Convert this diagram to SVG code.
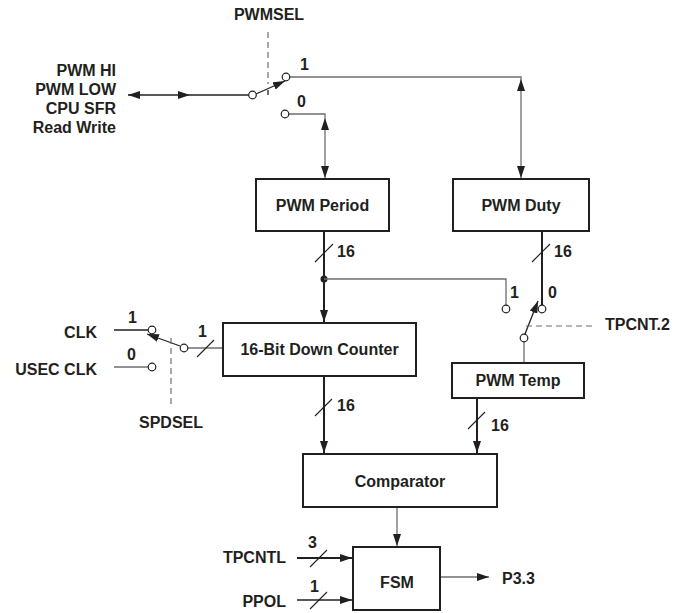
<svg xmlns="http://www.w3.org/2000/svg" width="674" height="613" viewBox="0 0 674 613">
<defs>
<marker id="ah" viewBox="0 0 12 8" refX="12" refY="4" markerWidth="12" markerHeight="8" markerUnits="userSpaceOnUse" orient="auto-start-reverse">
<path d="M0,0 L12,4 L0,8 Z" fill="#231f20"/>
</marker>
</defs>
<style>
text{font-family:"Liberation Sans",Arial,sans-serif;font-weight:bold;font-size:16px;fill:#231f20}
.m{text-anchor:middle}
.e{text-anchor:end}
.box{fill:#fff;stroke:#231f20;stroke-width:2}
.thin{fill:none;stroke:#6d6e71;stroke-width:1.3}
.dk{fill:none;stroke:#231f20;stroke-width:1.3}
.bus{fill:none;stroke:#231f20;stroke-width:2}
.sl{fill:none;stroke:#231f20;stroke-width:1.1}
.dash{fill:none;stroke:#6d6e71;stroke-width:1.2;stroke-dasharray:6,4}
.c{fill:#fff;stroke:#231f20;stroke-width:1.2}
.arr{marker-end:url(#ah)}
</style>

<g id="connectors">
<!-- PWMSEL switch -->
<path class="dk" d="M128,95 L190,95" marker-start="url(#ah)" marker-end="url(#ah)"/>
<path class="dk" d="M190,95 L249,95"/>
<path class="dash" d="M268,32 V84"/>
<path class="dk" d="M256,94 L285,81" marker-end="url(#ah)"/>
<path class="dk" d="M268,90 V95"/>
<path class="thin" d="M290,77 H521 V79"/>
<path class="thin" d="M521,79 V178" marker-start="url(#ah)" marker-end="url(#ah)"/>
<path class="thin" d="M289,114 H325 V118"/>
<path class="thin" d="M325,118 V178" marker-start="url(#ah)" marker-end="url(#ah)"/>

<!-- PWM Period to counter -->
<path class="bus" d="M324,231 V322" marker-end="url(#ah)"/>
<path class="sl" d="M315,262 L333,244"/>
<circle cx="324" cy="279" r="3.5" fill="#231f20"/>
<path class="thin" d="M324,279 H506 V305"/>

<!-- PWM Duty out -->
<path class="bus" d="M542,231 V305"/>
<path class="sl" d="M532,262 L550,244"/>

<!-- TPCNT.2 switch -->
<path class="dk" d="M525,334 L538,301" marker-end="url(#ah)"/>
<path class="dash" d="M526,326 H594"/>
<path class="thin" d="M524,342 V363"/>

<!-- CLK switch -->
<path class="dk" d="M114,330 H148"/>
<path class="thin" d="M114,367 H148"/>
<path class="dk" d="M180,346 L147,334" marker-end="url(#ah)"/>
<path class="dash" d="M171,338 V408"/>
<path class="thin" d="M188,348 H223"/>
<path class="sl" d="M197,357 L214,340"/>

<!-- Counter to comparator -->
<path class="bus" d="M324,376 V453" marker-end="url(#ah)"/>
<path class="sl" d="M315,416 L332,399"/>

<!-- PWM Temp to comparator -->
<path class="bus" d="M477,398 V453" marker-end="url(#ah)"/>
<path class="sl" d="M468,429 L485,412"/>

<!-- Comparator to FSM -->
<path class="thin" d="M397,507 V546" marker-end="url(#ah)"/>

<!-- FSM inputs -->
<path class="bus" d="M297,558 H352" marker-end="url(#ah)"/>
<path class="sl" d="M310,567 L327,550"/>
<path class="dk" d="M297,600 H352" marker-end="url(#ah)"/>
<path class="sl" d="M310,609 L327,592"/>

<!-- FSM output -->
<path class="thin" d="M440,577 H489" marker-end="url(#ah)"/>
</g>

<g id="contacts">
<circle class="c" cx="252.5" cy="95" r="3.8"/>
<circle class="c" cx="286" cy="77" r="3.8"/>
<circle class="c" cx="285" cy="114" r="3.8"/>
<circle class="c" cx="506" cy="309" r="3.8"/>
<circle class="c" cx="542" cy="309" r="3.8"/>
<circle class="c" cx="524" cy="338" r="3.8"/>
<circle class="c" cx="152" cy="330" r="3.8"/>
<circle class="c" cx="152" cy="367" r="3.8"/>
<circle class="c" cx="184" cy="348" r="3.8"/>
</g>

<g id="pwm-period">
<rect class="box" x="256" y="179" width="133" height="52"/>
<text class="m" x="322.5" y="211">PWM Period</text>
</g>
<g id="pwm-duty">
<rect class="box" x="453" y="179" width="136" height="52"/>
<text class="m" x="521" y="211">PWM Duty</text>
</g>
<g id="down-counter">
<rect class="box" x="223" y="323" width="193" height="53"/>
<text class="m" x="319.5" y="355">16-Bit Down Counter</text>
</g>
<g id="pwm-temp">
<rect class="box" x="452" y="363" width="132" height="35"/>
<text class="m" x="518" y="386">PWM Temp</text>
</g>
<g id="comparator">
<rect class="box" x="303" y="454" width="194" height="53"/>
<text class="m" x="400" y="487">Comparator</text>
</g>
<g id="fsm">
<rect class="box" x="353" y="547" width="87" height="63"/>
<text class="m" x="397" y="588">FSM</text>
</g>

<g id="labels">
<text class="m" x="269" y="20">PWMSEL</text>
<text class="e" x="116" y="76">PWM HI</text>
<text class="e" x="116" y="95">PWM LOW</text>
<text class="e" x="116" y="114">CPU SFR</text>
<text class="e" x="116" y="133">Read Write</text>
<text x="300" y="70">1</text>
<text x="297" y="107">0</text>
<text x="337" y="257">16</text>
<text x="554" y="257">16</text>
<text x="510" y="298">1</text>
<text x="548" y="298">0</text>
<text x="605" y="330">TPCNT.2</text>
<text class="e" x="97" y="338">CLK</text>
<text class="e" x="97" y="375">USEC CLK</text>
<text x="128" y="323">1</text>
<text x="127" y="360">0</text>
<text x="198" y="337">1</text>
<text class="m" x="171" y="428">SPDSEL</text>
<text x="337" y="411">16</text>
<text x="491" y="431">16</text>
<text class="e" x="286" y="563">TPCNTL</text>
<text class="e" x="286" y="607">PPOL</text>
<text x="308" y="548">3</text>
<text x="310" y="592">1</text>
<text x="502" y="584">P3.3</text>
</g>
</svg>
